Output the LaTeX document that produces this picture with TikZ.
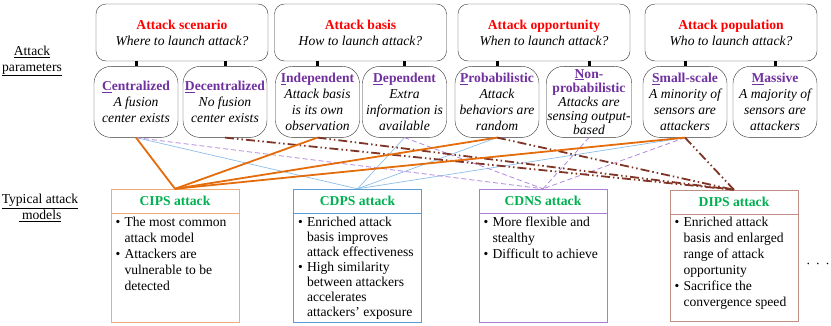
\documentclass[tikz,border=0pt]{standalone}
\usepackage{fontspec}
\setmainfont{Liberation Serif}
\usepackage{enumitem}
\usetikzlibrary{positioning}

\setlist[itemize]{label=\textbullet, leftmargin=11pt, labelsep=4pt,
  itemsep=0pt, topsep=0pt, parsep=0pt, partopsep=0pt}

\definecolor{headred}{RGB}{255,0,0}
\definecolor{parpurple}{RGB}{112,48,160}
\definecolor{modgreen}{RGB}{0,176,80}
\definecolor{cipsline}{RGB}{228,108,10}
\definecolor{cipsframe}{RGB}{242,170,120}
\definecolor{cdpsline}{RGB}{140,190,232}
\definecolor{cdpsframe}{RGB}{91,155,213}
\definecolor{cdnsline}{RGB}{178,135,222}
\definecolor{cdnsframe}{RGB}{170,125,210}
\definecolor{dipsline}{RGB}{128,52,38}
\definecolor{dipsframe}{RGB}{192,142,132}

\newcommand{\figsize}{\fontsize{13.6pt}{16pt}\selectfont}
\newcommand{\ptitle}[2]{{\upshape\bfseries\color{parpurple}\underline{#1}#2}}
\newcommand{\mbody}[1]{\parbox[c][104pt][t]{123pt}{\vspace*{1pt}\raggedright
  \begin{itemize}#1\end{itemize}}}

\begin{document}
\begin{tikzpicture}[
  x=1pt, y=-1pt, font=\figsize,
  parambox/.style={
    draw=black!80, rounded corners=10pt, align=center, inner sep=2pt,
    minimum height=57pt, minimum width=172pt
  },
  optbox/.style={
    draw=black!80, rounded corners=17pt, align=center, inner sep=1pt,
    minimum height=71pt, minimum width=84pt, font=\figsize\itshape
  },
  modhead/.style={
    minimum height=24pt, minimum width=128pt, inner sep=0pt,
    font=\figsize\bfseries, text=modgreen
  },
  modbody/.style={minimum height=109pt, minimum width=128pt, inner sep=0pt},
  tick/.style={line width=3pt, black},
  cipsln/.style={line width=1.8pt, cipsline},
  cdpsln/.style={line width=0.7pt, cdpsline},
  cdnsln/.style={line width=0.8pt, cdnsline, dash pattern=on 5pt off 3pt},
  dipsln/.style={line width=1.8pt, dipsline,
    dash pattern=on 9pt off 3pt on 1.5pt off 3pt on 1.5pt off 3pt}
]
\useasboundingbox (0,0) rectangle (831,325);

% side labels
\node[align=center] (params) at (32,61) {\underline{Attack}\\\underline{parameters}};
\node[align=center] (models) at (40,208) {\underline{Typical attack}\\\underline{\ models}};

% attack parameters
\node[parambox] (scen) at (182,32.5)
  {\textcolor{headred}{\textbf{Attack scenario}}\\\textit{Where to launch attack?}};
\node[parambox] (basis) at (360.5,32.5)
  {\textcolor{headred}{\textbf{Attack basis}}\\\textit{How to launch attack?}};
\node[parambox] (oppo) at (544,32.5)
  {\textcolor{headred}{\textbf{Attack opportunity}}\\\textit{When to launch attack?}};
\node[parambox] (popu) at (731,32.5)
  {\textcolor{headred}{\textbf{Attack population}}\\\textit{Who to launch attack?}};

\node[optbox, below=5pt of scen, xshift=-46pt] (cen)
  {\ptitle{C}{entralized}\\A fusion\\center exists};
\node[optbox, below=5pt of scen, xshift=43pt] (dec)
  {\ptitle{D}{ecentralized}\\No fusion\\center exists};
\node[optbox, below=5pt of basis, xshift=-43pt] (ind)
  {\ptitle{I}{ndependent}\\Attack basis\\is its own\\observation};
\node[optbox, below=5pt of basis, xshift=44pt] (dep)
  {\ptitle{D}{ependent}\\Extra\\information is\\available};
\node[optbox, below=5pt of oppo, xshift=-47pt] (prob)
  {\ptitle{P}{robabilistic}\\Attack\\behaviors are\\random};
\node[optbox, below=5pt of oppo, xshift=45pt, font=\fontsize{13.6pt}{14pt}\selectfont\itshape] (nonp)
  {\ptitle{N}{on-}\\\ptitle{}{probabilistic}\\Attacks are\\sensing output-\\based};
\node[optbox, below=5pt of popu, xshift=-46pt] (small)
  {\ptitle{S}{mall-scale}\\A minority of\\sensors are\\attackers};
\node[optbox, below=5pt of popu, xshift=44pt] (mass)
  {\ptitle{M}{assive}\\A majority of\\sensors are\\attackers};

\draw[tick] (cen.north) -- (cen.north |- scen.south);
\draw[tick] (dec.north) -- (dec.north |- scen.south);
\draw[tick] (ind.north) -- (ind.north |- basis.south);
\draw[tick] (dep.north) -- (dep.north |- basis.south);
\draw[tick] (prob.north) -- (prob.north |- oppo.south);
\draw[tick] (nonp.north) -- (nonp.north |- oppo.south);
\draw[tick] (small.north) -- (small.north |- popu.south);
\draw[tick] (mass.north) -- (mass.north |- popu.south);

% typical attack models
\node[modhead, draw=cipsframe] (cips) at (175,201) {CIPS attack};
\node[modbody, draw=cipsframe, below=0pt of cips] (cipsb) {\mbody{
  \item The most common\\attack model
  \item Attackers are\\vulnerable to be\\detected}};
\node[modhead, draw=cdpsframe] (cdps) at (357.5,201) {CDPS attack};
\node[modbody, draw=cdpsframe, below=0pt of cdps] (cdpsb) {\mbody{\baselineskip=15pt
  \item Enriched attack\\basis improves\\attack effectiveness
  \item High similarity\\between attackers\\accelerates\\attackers' exposure}};
\node[modhead, draw=cdnsframe] (cdns) at (543,201) {CDNS attack};
\node[modbody, draw=cdnsframe, below=0pt of cdns] (cdnsb) {\mbody{
  \item More flexible and\\stealthy
  \item Difficult to achieve}};
\node[modhead, draw=dipsframe] (dips) at (734,202) {DIPS attack};
\node[modbody, draw=dipsframe, below=0pt of dips, minimum height=107pt] (dipsb) {\mbody{
  \item Enriched attack\\basis and enlarged\\range of attack\\opportunity
  \item Sacrifice the\\convergence speed}};
\node (more) at (818,266) {·\hspace{5pt}·\hspace{5pt}·};

% links
\draw[cdpsln] (cen.south) -- (cdps.north);
\draw[cdpsln] (dep.south) -- (cdps.north);
\draw[cdpsln] (prob.south) -- (cdps.north);
\draw[cdpsln] (small.south) -- (cdps.north);
\draw[cdnsln] (cen.south) -- (cdns.north);
\draw[cdnsln] (dep.south) -- (cdns.north);
\draw[cdnsln] (nonp.south) -- (cdns.north);
\draw[cdnsln] (small.south) -- (cdns.north);
\draw[dipsln] (dec.south) -- (dips.north);
\draw[dipsln] (ind.south) -- (dips.north);
\draw[dipsln] (prob.south) -- (dips.north);
\draw[dipsln] (small.south) -- (dips.north);
\draw[cipsln] (cen.south) -- (cips.north);
\draw[cipsln] (ind.south) -- (cips.north);
\draw[cipsln] (prob.south) -- (cips.north);
\draw[cipsln] (small.south) -- (cips.north);
\end{tikzpicture}
\end{document}
